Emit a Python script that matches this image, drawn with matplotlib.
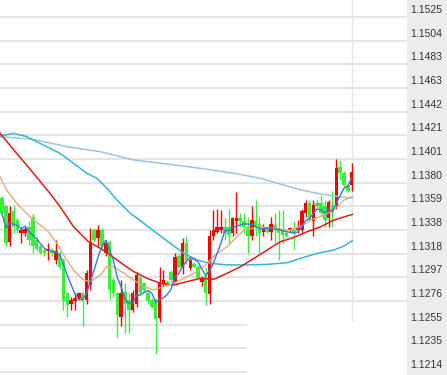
import matplotlib
matplotlib.use("Agg")
import matplotlib.pyplot as plt
from matplotlib.patches import Rectangle
import numpy as np
import pandas as pd

# ---------------- data ----------------
opens = [1.1366, 1.1359, 1.1328, 1.1355, 1.1347, 1.1336, 1.1336, 1.1341, 1.1350, 1.1330,
         1.1324, 1.1321, 1.1320, 1.1321, 1.1312, 1.1318, 1.1312, 1.1283, 1.1274, 1.1276,
         1.1279, 1.1283, 1.1277, 1.1290, 1.1338, 1.1331, 1.1338, 1.1318, 1.1328, 1.1295,
         1.1283, 1.1262, 1.1284, 1.1277, 1.1268, 1.1274, 1.1296, 1.1292, 1.1283, 1.1277,
         1.1277, 1.1261, 1.1292, 1.1293, 1.1302, 1.1293, 1.1316, 1.1306, 1.1327, 1.1305,
         1.1309, 1.1306, 1.1293, 1.1298, 1.1282, 1.1333, 1.1337, 1.1338, 1.1341, 1.1341,
         1.1336, 1.1346, 1.1349, 1.1346, 1.1341, 1.1333, 1.1346, 1.1344, 1.1337, 1.1340,
         1.1337, 1.1343, 1.1338, 1.1338, 1.1336, 1.1338, 1.1338, 1.1338, 1.1338, 1.1353,
         1.1362, 1.1346, 1.1362, 1.1362, 1.1359, 1.1349, 1.1360, 1.1359, 1.1394, 1.1388,
         1.1378, 1.1378]
highs = [1.1368, 1.1360, 1.1359, 1.1359, 1.1349, 1.1341, 1.1341, 1.1346, 1.1352, 1.1332,
         1.1325, 1.1322, 1.1327, 1.1323, 1.1330, 1.1320, 1.1314, 1.1284, 1.1280, 1.1283,
         1.1284, 1.1284, 1.1303, 1.1340, 1.1340, 1.1343, 1.1340, 1.1330, 1.1330, 1.1296,
         1.1284, 1.1295, 1.1292, 1.1283, 1.1286, 1.1302, 1.1298, 1.1293, 1.1286, 1.1279,
         1.1279, 1.1306, 1.1303, 1.1295, 1.1303, 1.1318, 1.1318, 1.1331, 1.1333, 1.1314,
         1.1310, 1.1308, 1.1298, 1.1306, 1.1338, 1.1356, 1.1357, 1.1356, 1.1349, 1.1357,
         1.1350, 1.1372, 1.1353, 1.1353, 1.1350, 1.1359, 1.1365, 1.1350, 1.1344, 1.1341,
         1.1350, 1.1353, 1.1356, 1.1356, 1.1337, 1.1341, 1.1346, 1.1347, 1.1357, 1.1365,
         1.1365, 1.1365, 1.1365, 1.1369, 1.1365, 1.1365, 1.1373, 1.1401, 1.1400, 1.1390,
         1.1379, 1.1397]
lows = [1.1352, 1.1324, 1.1324, 1.1336, 1.1336, 1.1327, 1.1333, 1.1325, 1.1318, 1.1320,
        1.1317, 1.1316, 1.1312, 1.1316, 1.1309, 1.1304, 1.1268, 1.1262, 1.1268, 1.1268,
        1.1277, 1.1254, 1.1274, 1.1286, 1.1328, 1.1324, 1.1322, 1.1316, 1.1277, 1.1280,
        1.1245, 1.1254, 1.1248, 1.1248, 1.1267, 1.1271, 1.1282, 1.1284, 1.1274, 1.1270,
        1.1230, 1.1258, 1.1289, 1.1289, 1.1293, 1.1292, 1.1305, 1.1300, 1.1309, 1.1303,
        1.1305, 1.1295, 1.1289, 1.1273, 1.1274, 1.1330, 1.1336, 1.1336, 1.1330, 1.1327,
        1.1333, 1.1336, 1.1341, 1.1336, 1.1318, 1.1330, 1.1333, 1.1318, 1.1333, 1.1336,
        1.1330, 1.1327, 1.1312, 1.1327, 1.1332, 1.1337, 1.1322, 1.1336, 1.1336, 1.1350,
        1.1346, 1.1333, 1.1358, 1.1351, 1.1341, 1.1341, 1.1341, 1.1357, 1.1382, 1.1376,
        1.1372, 1.1373]
closes = [1.1353, 1.1327, 1.1353, 1.1341, 1.1338, 1.1338, 1.1339, 1.1330, 1.1324, 1.1322,
          1.1318, 1.1318, 1.1322, 1.1318, 1.1320, 1.1306, 1.1276, 1.1273, 1.1277, 1.1279,
          1.1283, 1.1276, 1.1301, 1.1328, 1.1330, 1.1338, 1.1324, 1.1327, 1.1286, 1.1283,
          1.1264, 1.1283, 1.1274, 1.1268, 1.1283, 1.1299, 1.1283, 1.1286, 1.1276, 1.1271,
          1.1260, 1.1293, 1.1295, 1.1290, 1.1295, 1.1315, 1.1306, 1.1327, 1.1312, 1.1312,
          1.1306, 1.1296, 1.1296, 1.1283, 1.1333, 1.1338, 1.1341, 1.1341, 1.1336, 1.1334,
          1.1349, 1.1349, 1.1346, 1.1341, 1.1333, 1.1347, 1.1341, 1.1336, 1.1340, 1.1337,
          1.1344, 1.1338, 1.1336, 1.1334, 1.1333, 1.1340, 1.1336, 1.1341, 1.1355, 1.1362,
          1.1347, 1.1360, 1.1359, 1.1353, 1.1347, 1.1363, 1.1353, 1.1393, 1.1388, 1.1378,
          1.1373, 1.1389]

# slower moving averages (bar position, value)
ma_tan_x = [-0.5, 1.2, 3.8, 6.4, 8.2, 11.7, 14.3, 16.0, 18.6, 21.2, 23.0, 25.6, 27.3, 29.0,
            31.7, 34.3, 36.9, 39.5, 42.1, 44.7, 48.2, 50.8, 53.4, 56.0, 58.6, 60.3, 63.0,
            67.3, 71.7, 75.1, 77.7, 80.3, 83.0, 86.4, 89.0, 91.2]
ma_tan_y = [1.13851, 1.13735, 1.13618, 1.13530, 1.13472, 1.13384, 1.13267, 1.13165, 1.13034,
            1.12946, 1.12932, 1.12990, 1.13063, 1.13063, 1.13005, 1.12946, 1.12888, 1.12859,
            1.12888, 1.12917, 1.12975, 1.13019, 1.13092, 1.13180, 1.13238, 1.13297, 1.13384,
            1.13413, 1.13390, 1.13384, 1.13413, 1.13472, 1.13501, 1.13559, 1.13647, 1.13676]
ma_red_x = [-0.5, 3.8, 8.2, 12.5, 15.1, 18.6, 22.5, 25.6, 28.2, 31.7, 34.3, 37.7, 41.2, 44.7,
            48.2, 51.7, 55.1, 58.6, 62.1, 65.6, 69.0, 72.5, 76.0, 79.5, 83.0, 86.4, 91.2]
ma_red_y = [1.14231, 1.14056, 1.13881, 1.13705, 1.13589, 1.13413, 1.13282, 1.13223, 1.13165,
            1.13078, 1.13019, 1.12961, 1.12917, 1.12902, 1.12932, 1.12961, 1.12952, 1.13005,
            1.13063, 1.13136, 1.13209, 1.13282, 1.13320, 1.13370, 1.13413, 1.13472, 1.13521]
ma_cyan_x = [-0.5, 3.0, 6.4, 9.9, 15.1, 18.6, 22.1, 24.7, 27.3, 29.9, 33.4, 36.9, 40.3, 43.8,
             47.3, 50.8, 54.3, 58.6, 63.8, 69.0, 74.3, 77.7, 82.1, 86.4, 89.0, 91.2]
ma_cyan_y = [1.14208, 1.14231, 1.14202, 1.14143, 1.14056, 1.13968, 1.13881, 1.13837, 1.13749,
             1.13647, 1.13530, 1.13443, 1.13355, 1.13267, 1.13180, 1.13121, 1.13092, 1.13078,
             1.13078, 1.13083, 1.13098, 1.13136, 1.13180, 1.13209, 1.13244, 1.13291]
ma_long_x = [-0.5, 8.2, 16.9, 25.6, 34.3, 43.0, 51.7, 60.3, 67.3, 71.7, 77.7, 83.0, 86.4, 91.2]
ma_long_y = [1.14202, 1.14178, 1.14114, 1.14070, 1.13997, 1.13962, 1.13924, 1.13881, 1.13837,
             1.13793, 1.13735, 1.13700, 1.13682, 1.13662]

tick_labels = ["1.1525", "1.1504", "1.1483", "1.1463", "1.1442", "1.1421", "1.1401", "1.1380",
               "1.1359", "1.1338", "1.1318", "1.1297", "1.1276", "1.1255", "1.1235", "1.1214"]

# ---------------- figure ----------------
W, H = 447, 375
fig = plt.figure(figsize=(W / 100, H / 100), dpi=100)
fig.patch.set_facecolor("white")
fig.patches.append(Rectangle((407 / W, 0), 1 - 407 / W, 1, transform=fig.transFigure,
                             facecolor="#ececec", edgecolor="none", zorder=-5))
ax = fig.add_axes([0, 0, 407 / W, 1])
ax.set_zorder(2)
ax.set_facecolor("white")

ymax_v = 1.1525
ymin_v = 1.1214
tick_vals = np.linspace(ymax_v, ymin_v, len(tick_labels))
px_per_unit = (372 - 17) / (ymax_v - ymin_v)
ax.set_ylim(ymin_v - (H - 372) / px_per_unit, ymax_v + 17 / px_per_unit)
n = len(closes)
step = 3.843
ax.set_xlim(-2 / step, (407 - 2) / step)

for v in tick_vals:
    ax.axhline(v, color="#e4e4e4", lw=1.4, zorder=0.5)
ax.axvline(n - 1, ymin=(H - 323) / H, ymax=1, color="#e4e4e4", lw=1.0, zorder=0.5)
# blank area bottom right
ax.add_patch(Rectangle((247 / 407, 0), 1 - 247 / 407, (H - 321) / H, transform=ax.transAxes,
                       facecolor="white", edgecolor="none", zorder=0.8))

x = np.arange(n)
o = np.array(opens); c = np.array(closes); h = np.array(highs); l = np.array(lows)
up = c >= o
red = "#f80000"
green = "#3cec3c"
cols = np.where(up, red, green)
bottom = np.minimum(o, c)
height = np.maximum(np.abs(c - o), 0.00007)
ax.vlines(x, l, h, colors=cols, lw=1.0, zorder=2)
ax.bar(x, height, bottom=bottom, width=0.92, color=cols, edgecolor="none", zorder=2.1)

ma5 = pd.Series(closes).rolling(5, min_periods=1).mean()
ax.plot(ma_long_x, ma_long_y, color="#9cc4e2", lw=1.1, zorder=3)
ax.plot(ma_cyan_x, ma_cyan_y, color="#34b6d6", lw=1.1, zorder=3)
ax.plot(ma_red_x, ma_red_y, color="#e01a1a", lw=1.1, zorder=3)
ax.plot(ma_tan_x, ma_tan_y, color="#e4aa7c", lw=1.0, zorder=3)
ax.plot(x, ma5, color="#3a78d8", lw=1.0, zorder=3.1)

for v, s in zip(tick_vals, tick_labels):
    ax.annotate(s, xy=(1, v), xycoords=("axes fraction", "data"), xytext=(3, 7),
                textcoords="offset pixels", ha="left", va="center", fontsize=7.5,
                family="Liberation Sans", color="#333333", annotation_clip=False, zorder=5)

for sp in ax.spines.values():
    sp.set_visible(False)
ax.set_xticks([]); ax.set_yticks([])

fig.savefig("out.png", dpi=100)
